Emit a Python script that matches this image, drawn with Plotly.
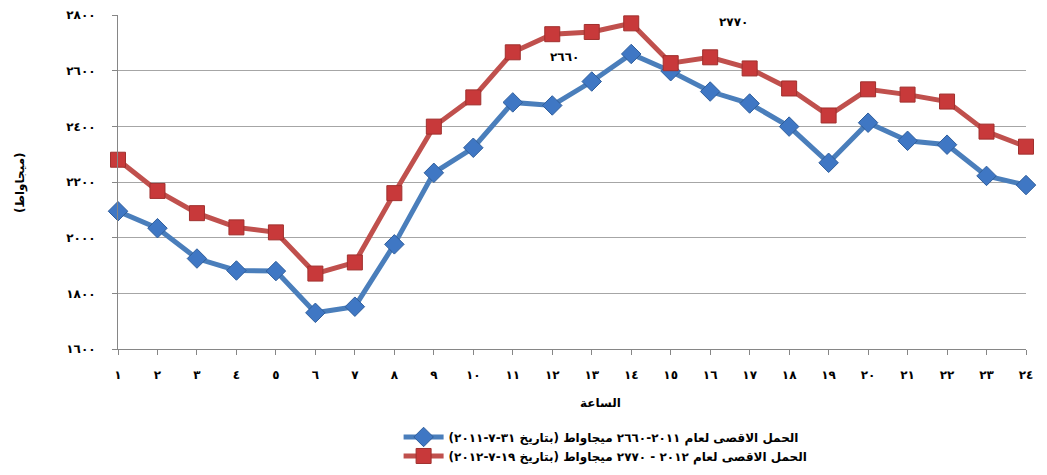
import plotly.graph_objects as go

hours = list(range(1, 25))
hour_labels = ["١", "٢", "٣", "٤", "٥", "٦", "٧", "٨", "٩", "١٠", "١١", "١٢",
               "١٣", "١٤", "١٥", "١٦", "١٧", "١٨", "١٩", "٢٠", "٢١", "٢٢", "٢٣", "٢٤"]
load_2011 = [2095, 2034, 1925, 1882, 1880, 1730, 1752, 1976, 2233, 2323, 2486, 2475,
             2561, 2660, 2598, 2525, 2482, 2399, 2269, 2413, 2348, 2334, 2222, 2189]
load_2012 = [2280, 2168, 2088, 2037, 2019, 1871, 1911, 2160, 2399, 2504, 2666, 2731,
             2739, 2770, 2627, 2648, 2608, 2536, 2439, 2533, 2514, 2489, 2381, 2327]
y_ticks = [1600, 1800, 2000, 2200, 2400, 2600, 2800]
y_labels = ["١٦٠٠", "١٨٠٠", "٢٠٠٠", "٢٢٠٠", "٢٤٠٠", "٢٦٠٠", "٢٨٠٠"]
name_2011 = "الحمل الاقصى لعام ٢٠١١-٢٦٦٠ ميجاواط (بتاريخ ٣١-٧-٢٠١١)"
name_2012 = "الحمل الاقصى لعام ٢٠١٢ - ٢٧٧٠ ميجاواط (بتاريخ ١٩-٧-٢٠١٢)"

FONT = "DejaVu Sans"
BLUE = "#4A7EBB"
RED = "#C0504D"
BOLD = dict(family=FONT, size=12, color="black", weight="bold")

fig = go.Figure()
fig.add_trace(go.Scatter(
    x=hours, y=load_2011, name=name_2011, mode="lines+markers",
    line=dict(color=BLUE, width=5),
    marker=dict(symbol="diamond", size=15, color="#3F77C4",
                line=dict(color="#2F5E9C", width=1)),
    cliponaxis=False,
))
fig.add_trace(go.Scatter(
    x=hours, y=load_2012, name=name_2012, mode="lines+markers",
    line=dict(color=RED, width=5),
    marker=dict(symbol="square", size=15, color="#C8393A",
                line=dict(color="#A0302E", width=1)),
    cliponaxis=False,
))

fig.add_annotation(x=16.6, y=2775, text="٢٧٧٠", showarrow=False, font=BOLD)
fig.add_annotation(x=12.3, y=2648, text="٢٦٦٠", showarrow=False, font=BOLD)
fig.add_annotation(x=0.531, xref="paper", y=-0.162, yref="paper", yanchor="middle",
                   text="الساعة", showarrow=False, font=BOLD)
fig.add_annotation(x=-0.108, xref="paper", y=0.5, yref="paper", xanchor="center",
                   yanchor="middle", textangle=-90,
                   text="(ميجاواط)", showarrow=False, font=BOLD)

fig.update_layout(
    width=1031, height=459,
    margin=dict(l=110, r=13, t=7, b=118, autoexpand=False),
    paper_bgcolor="white", plot_bgcolor="white",
    font=dict(family=FONT, size=12, color="black"),
    showlegend=True,
    legend=dict(orientation="v", x=0.537, xanchor="center", y=-0.22, yanchor="top",
                font=BOLD, tracegroupgap=0, itemwidth=40),
    xaxis=dict(range=[1, 24], tickvals=hours, ticktext=hour_labels, automargin=False,
               showgrid=False, showline=True, linecolor="#868686", linewidth=1,
               ticks="outside", ticklen=5, tickcolor="#868686",
               ticklabelstandoff=10, zeroline=False, tickfont=BOLD),
    yaxis=dict(range=[1600, 2800], tickvals=y_ticks, ticktext=y_labels, automargin=False,
               showgrid=True, gridcolor="#A6A6A6", gridwidth=1,
               showline=True, linecolor="#868686", linewidth=1,
               ticks="outside", ticklen=5, tickcolor="#868686",
               ticklabelstandoff=14, zeroline=False, tickfont=BOLD),
)

fig.write_html("out.html")
